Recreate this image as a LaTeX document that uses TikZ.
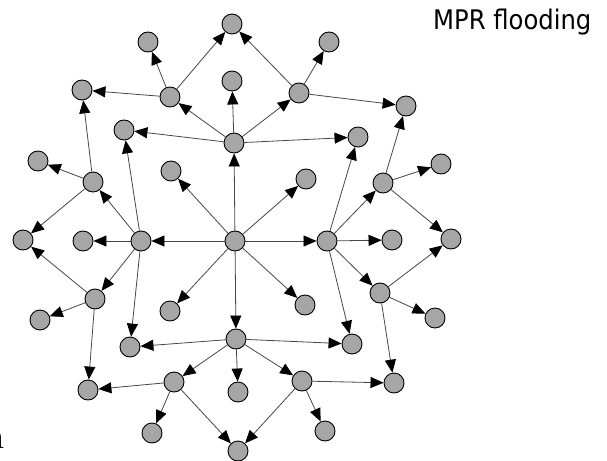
\documentclass[tikz,border=0pt]{standalone}
\usepackage{fontspec}
\newfontfamily\titlefont{DejaVu Sans Condensed}
\usetikzlibrary{arrows.meta}
\definecolor{nodegray}{RGB}{166,166,166}
\definecolor{edgegray}{RGB}{70,70,70}
\tikzset{
  host/.style={circle, draw=black, line width=0.9pt, fill=nodegray, minimum size=20pt, inner sep=0pt},
  fwd/.style={draw=edgegray, line width=0.8pt, -{Triangle[length=13pt,width=11pt,color=black]}},
}
\begin{document}
\begin{tikzpicture}[x=1pt, y=-1pt]
\useasboundingbox (0,0) rectangle (607,460);
\clip (0,0) rectangle (607,460);

% title
\node[anchor=base west, inner sep=0pt, font=\titlefont\fontsize{27}{30}\selectfont] (title) at (433,30) {MPR flooding};
% clipped margin letter
\node[anchor=base east, inner sep=0pt, font=\fontsize{36}{40}\selectfont] (edge) at (5,448) {n};

% source and first-hop MPRs
\node[host] (C)   at (235,241) {};
\node[host] (T)   at (234,143) {};
\node[host] (L)   at (141,241) {};
\node[host] (R)   at (327,241) {};
\node[host] (B)   at (236,339) {};
\node[host] (Cnw) at (171,171) {};
\node[host] (Cne) at (306,179) {};
\node[host] (Csw) at (170,311) {};
\node[host] (Cse) at (305,305) {};

% upper branch
\node[host] (T1)  at (232,81) {};
\node[host] (TL)  at (170,97) {};
\node[host] (TR)  at (299,93) {};
\node[host] (TT)  at (232,24) {};
\node[host] (TLa) at (148,42) {};
\node[host] (TLb) at (82,90) {};
\node[host] (TRa) at (329,42) {};
\node[host] (TRb) at (406,106) {};
\node[host] (Tw)  at (124,130) {};
\node[host] (Te)  at (358,137) {};

% left branch
\node[host] (Lw)  at (83,241) {};
\node[host] (LU)  at (93,182) {};
\node[host] (LUw) at (38,161) {};
\node[host] (LL)  at (23,240) {};
\node[host] (LD)  at (95,299) {};
\node[host] (LDw) at (40,320) {};
\node[host] (LDs) at (88,390) {};
\node[host] (Ls)  at (130,347) {};

% right branch
\node[host] (Re)  at (392,240) {};
\node[host] (RU)  at (383,183) {};
\node[host] (RUe) at (441,164) {};
\node[host] (RR)  at (451,239) {};
\node[host] (RD)  at (380,293) {};
\node[host] (RDe) at (435,318) {};
\node[host] (RDs) at (394,383) {};
\node[host] (Rs)  at (352,344) {};

% lower branch
\node[host] (Bs)  at (238,392) {};
\node[host] (BL)  at (174,382) {};
\node[host] (BLs) at (152,433) {};
\node[host] (BB)  at (238,451) {};
\node[host] (BR)  at (302,381) {};
\node[host] (BRs) at (325,431) {};

% retransmissions
\foreach \a/\b in {C/T, C/Cnw, C/Cne, C/L, C/R, C/B, C/Csw, C/Cse,
                   T/T1, T/TL, T/TR, T/Tw, T/Te,
                   TL/TLa, TL/TT, TL/TLb,
                   TR/TT, TR/TRa, TR/TRb,
                   L/Lw, L/Tw, L/LU, L/LD, L/Ls,
                   LU/TLb, LU/LUw, LU/LL,
                   LD/LL, LD/LDw, LD/LDs,
                   B/Ls, B/Rs, B/BL, B/Bs, B/BR,
                   BL/LDs, BL/BLs, BL/BB,
                   BR/BB, BR/RDs, BR/BRs,
                   R/Re, R/Te, R/RU, R/RD, R/Rs,
                   RU/TRb, RU/RUe, RU/RR,
                   RD/RR, RD/RDe, RD/RDs}
  \draw[fwd] (\a) -- (\b);
\end{tikzpicture}
\end{document}
